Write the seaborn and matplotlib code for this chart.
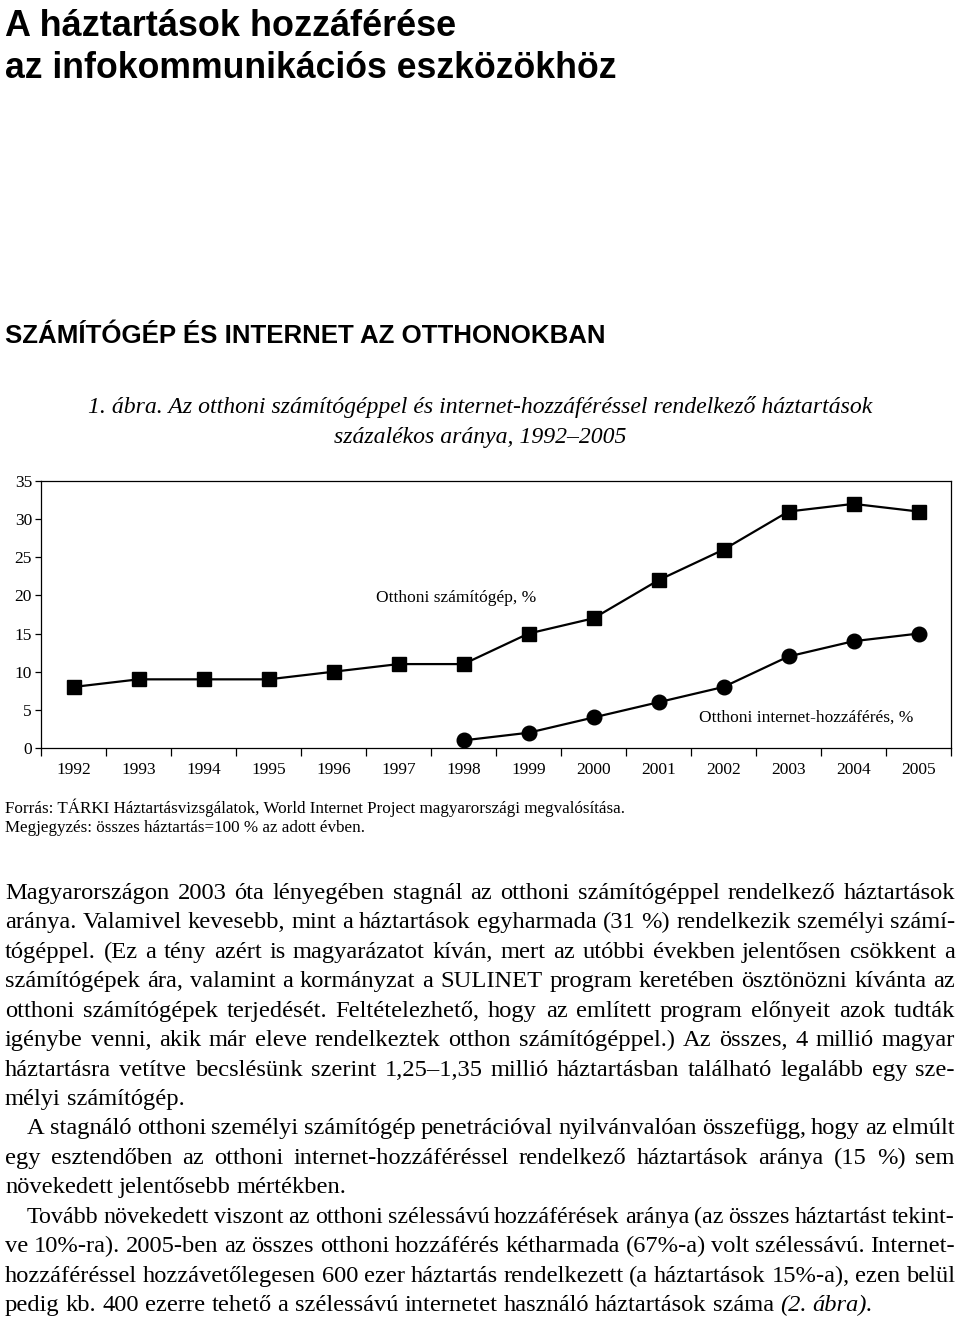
import matplotlib
matplotlib.use("Agg")
import matplotlib.pyplot as plt
import seaborn as sns
import pandas as pd
from matplotlib import font_manager as fm
from matplotlib.ticker import FixedLocator, NullFormatter

# ---------------- data ----------------
years = [1992, 1993, 1994, 1995, 1996, 1997, 1998, 1999, 2000, 2001, 2002, 2003, 2004, 2005]
computer = [8, 9, 9, 9, 10, 11, 11, 15, 17, 22, 26, 31, 32, 31]
internet_years = [1998, 1999, 2000, 2001, 2002, 2003, 2004, 2005]
internet = [1, 2, 4, 6, 8, 12, 14, 15]
y_ticks = [0, 5, 10, 15, 20, 25, 30, 35]

title_lines = ["A háztartások hozzáférése", "az infokommunikációs eszközökhöz"]
section_title = "SZÁMÍTÓGÉP ÉS INTERNET AZ OTTHONOKBAN"
caption_lines = ["1. ábra. Az otthoni számítógéppel és internet-hozzáféréssel rendelkező háztartások",
                 "százalékos aránya, 1992–2005"]
label_computer = "Otthoni számítógép, %"
label_internet = "Otthoni internet-hozzáférés, %"
source_lines = ["Forrás: TÁRKI Háztartásvizsgálatok, World Internet Project magyarországi megvalósítása.",
                "Megjegyzés: összes háztartás=100 % az adott évben."]
# (text, indent, justified)
body_lines = [
    ("Magyarországon 2003 óta lényegében stagnál az otthoni számítógéppel rendelkező háztartások", False, True),
    ("aránya. Valamivel kevesebb, mint a háztartások egyharmada (31 %) rendelkezik személyi számí-", False, True),
    ("tógéppel. (Ez a tény azért is magyarázatot kíván, mert az utóbbi években jelentősen csökkent a", False, True),
    ("számítógépek ára, valamint a kormányzat a SULINET program keretében ösztönözni kívánta az", False, True),
    ("otthoni számítógépek terjedését. Feltételezhető, hogy az említett program előnyeit azok tudták", False, True),
    ("igénybe venni, akik már eleve rendelkeztek otthon számítógéppel.) Az összes, 4 millió magyar", False, True),
    ("háztartásra vetítve becslésünk szerint 1,25–1,35 millió háztartásban található legalább egy sze-", False, True),
    ("mélyi számítógép.", False, False),
    ("A stagnáló otthoni személyi számítógép penetrációval nyilvánvalóan összefügg, hogy az elmúlt", True, True),
    ("egy esztendőben az otthoni internet-hozzáféréssel rendelkező háztartások aránya (15 %) sem", False, True),
    ("növekedett jelentősebb mértékben.", False, False),
    ("Tovább növekedett viszont az otthoni szélessávú hozzáférések aránya (az összes háztartást tekint-", True, True),
    ("ve 10%-ra). 2005-ben az összes otthoni hozzáférés kétharmada (67%-a) volt szélessávú. Internet-", False, True),
    ("hozzáféréssel hozzávetőlegesen 600 ezer háztartás rendelkezett (a háztartások 15%-a), ezen belül", False, True),
    ("pedig kb. 400 ezerre tehető a szélessávú internetet használó háztartások száma (2. ábra).", False, False),
]
italic_words = {14: {"(2.", "ábra)."}}

# ---------------- setup ----------------
W, H = 960, 1321
sns.set_theme(style="ticks")
plt.rcParams["font.family"] = ["Liberation Serif", "DejaVu Serif"]
plt.rcParams["text.color"] = "black"

names = {f.name for f in fm.fontManager.ttflist}
title_family = ["Liberation Sans Narrow"] if "Liberation Sans Narrow" in names else ["Liberation Sans", "DejaVu Sans"]

fig = plt.figure(figsize=(W / 100, H / 100), dpi=100)
fig.patch.set_facecolor("white")
renderer = fig.canvas.get_renderer()


def fy(y):
    return 1 - y / H


def fit_text(x, y, s, target_w, ha="left", **kw):
    t = fig.text(x / W, fy(y), s, fontsize=20, va="baseline", ha=ha, **kw)
    w = t.get_window_extent(renderer).width
    t.set_fontsize(20 * target_w / w)
    return t


# ---------------- titles ----------------
fit_text(5, 36, title_lines[0], 450, family=title_family, fontweight="bold")
fit_text(5, 78, title_lines[1], 612, family=title_family, fontweight="bold")
fit_text(5, 343, section_title, 600, family=title_family, fontweight="bold")

fit_text(480, 413, caption_lines[0], 785, ha="center", fontstyle="italic")
cap_fs = fig.texts[-1].get_fontsize()
fig.text(480 / W, fy(443), caption_lines[1], fontsize=cap_fs, fontstyle="italic",
         ha="center", va="baseline")

# ---------------- chart ----------------
ax = fig.add_axes([41 / W, 1 - 748 / H, 910 / W, 267 / H])
df_c = pd.DataFrame({"year": years, "value": computer})
df_i = pd.DataFrame({"year": internet_years, "value": internet})
sns.lineplot(data=df_c, x="year", y="value", ax=ax, color="black", linewidth=1.6,
             marker="s", markersize=10, markeredgecolor="black", markeredgewidth=1)
sns.lineplot(data=df_i, x="year", y="value", ax=ax, color="black", linewidth=1.6,
             marker="o", markersize=10.5, markeredgecolor="black", markeredgewidth=1)

ax.set_xlim(years[0] - 0.5, years[-1] + 0.5)
ax.set_ylim(0, 35)
ax.set_xlabel("")
ax.set_ylabel("")
ax.set_yticks(y_ticks)
ax.set_yticklabels([str(v) for v in y_ticks])
ax.xaxis.set_major_locator(FixedLocator([y - 0.5 for y in years] + [years[-1] + 0.5]))
ax.xaxis.set_major_formatter(NullFormatter())
ax.xaxis.set_minor_locator(FixedLocator(years))
ax.set_xticklabels([str(y) for y in years], minor=True)
ax.tick_params(axis="x", which="major", length=6, width=0.9, color="black", direction="out")
ax.tick_params(axis="x", which="minor", length=0, pad=10, labelsize=12.5, labelcolor="black")
ax.tick_params(axis="y", which="major", length=4.5, width=0.9, color="black", pad=2,
               labelsize=12.5, labelcolor="black")
for sp in ax.spines.values():
    sp.set_visible(True)
    sp.set_color("black")
    sp.set_linewidth(0.9)
ax.set_facecolor("white")
ax.grid(False)

fig.text(456 / W, fy(602), label_computer, fontsize=12.5, ha="center", va="baseline")
fig.text(806 / W, fy(722), label_internet, fontsize=12.5, ha="center", va="baseline")

# ---------------- source ----------------
fit_text(5, 813, source_lines[0], 620)
src_fs = fig.texts[-1].get_fontsize()
fig.text(5 / W, fy(832), source_lines[1], fontsize=src_fs, ha="left", va="baseline")

# ---------------- body text (justified) ----------------
probe = fig.text(0, 0, body_lines[-1][0], fontsize=16, va="baseline")
pw = probe.get_window_extent(renderer).width
probe.remove()
body_fs = 16 * 863 / pw

left, right = 5, 955
indent = 22
base0, step = 899, 29.43


def place_line(idx, s, ind, just, y):
    words = s.split(" ")
    ital = italic_words.get(idx, set())
    fs = body_fs
    x0 = left + (indent if ind else 0)
    for _ in range(4):
        texts = [fig.text(0, fy(y), w, fontsize=fs, va="baseline", ha="left",
                          fontstyle=("italic" if w in ital else "normal")) for w in words]
        widths = [t.get_window_extent(renderer).width for t in texts]
        px = fs * 100 / 72
        if just and len(words) > 1:
            gap = (right - x0 - sum(widths)) / (len(words) - 1)
            if gap < 0.17 * px:
                for t in texts:
                    t.remove()
                fs = fs * (right - x0 - (len(words) - 1) * 0.2 * px) / sum(widths)
                continue
        else:
            gap = 0.25 * px
        break
    x = x0
    for t, wd in zip(texts, widths):
        t.set_x(x / W)
        x += wd + gap


for i, (s, ind, just) in enumerate(body_lines):
    place_line(i, s, ind, just, base0 + step * i)

fig.savefig("out.png", dpi=100, facecolor="white")
